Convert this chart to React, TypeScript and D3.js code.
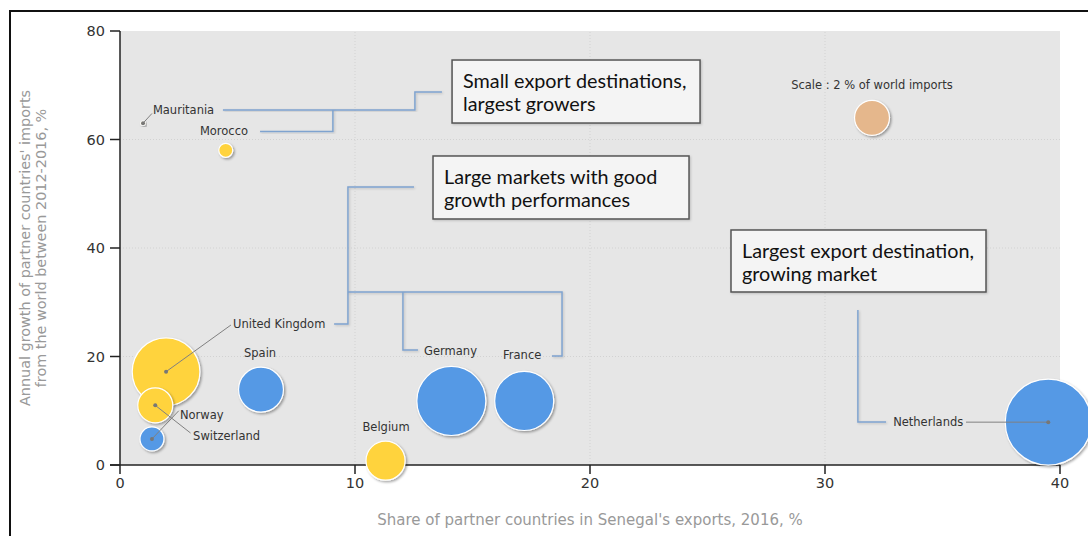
import React from 'react';
import * as d3 from 'd3';

// country bubbles
const countries = ['Mauritania', 'Morocco', 'United Kingdom', 'Norway', 'Switzerland', 'Spain', 'Belgium', 'Germany', 'France', 'Netherlands'];
const exportShare = [0.98, 4.5, 1.96, 1.5, 1.36, 6.0, 11.3, 14.1, 17.2, 39.5];
const importGrowth = [63, 58, 17.2, 11, 4.8, 13.9, 0.8, 11.8, 11.8, 7.9];
const worldImportShare = [0.03, 0.32, 7.5, 2.0, 0.94, 3.3, 2.5, 7.8, 5.7, 12.1];
const groups = ['small', 'small', 'small', 'small', 'large', 'large', 'small', 'large', 'large', 'large'];

const xTicks = [0, 10, 20, 30, 40];
const yTicks = [0, 20, 40, 60, 80];

const xTitle = "Share of partner countries in Senegal's exports, 2016, %";
const yTitle = ["Annual growth of partner countries' imports", 'from the world between 2012-2016, %'];

// size legend
const scaleLabel = 'Scale : 2 % of world imports';
const scaleValue = 2;
const scalePos = [32, 64];

// label anchors (data units)
const labelAt: Record<string, [number, number, string]> = {
  Mauritania: [1.4, 65.4, 'start'],
  Morocco: [3.4, 61.6, 'start'],
  'United Kingdom': [4.81, 26.0, 'start'],
  Norway: [2.55, 9.2, 'start'],
  Switzerland: [3.11, 5.35, 'start'],
  Spain: [5.96, 20.6, 'middle'],
  Belgium: [11.32, 7.0, 'middle'],
  Germany: [12.94, 21.0, 'start'],
  France: [16.3, 20.3, 'start'],
  Netherlands: [32.9, 7.9, 'start'],
};

// leader lines from bubble centre to a point (data units)
const leaderTo: Record<string, [number, number]> = {
  Mauritania: [1.36, 64.8],
  'United Kingdom': [4.72, 25.8],
  Norway: [3.0, 5.9],
  Switzerland: [2.5, 10.0],
  Netherlands: [36.0, 7.9],
};

// annotation brackets (data units)
const brackets: [number, number][][] = [
  [[4.38, 65.44], [12.55, 65.44], [12.55, 68.76], [13.7, 68.76]],
  [[5.96, 61.47], [9.06, 61.47], [9.06, 65.44]],
  [[12.51, 51.24], [9.7, 51.24], [9.7, 25.99], [9.11, 25.99]],
  [[9.7, 31.89], [18.81, 31.89], [18.81, 20.09], [18.38, 20.09]],
  [[12.04, 31.89], [12.04, 21.2], [12.68, 21.2]],
  [[31.4, 28.57], [31.4, 7.93], [32.6, 7.93]],
];

const boxes = [
  { lines: ['Small export destinations,', 'largest growers'], x: 14.13, y: 74.65, w: 248, h: 63 },
  { lines: ['Large markets with good', 'growth performances'], x: 13.32, y: 56.96, w: 256, h: 63 },
  { lines: ['Largest export destination,', 'growing market'], x: 26.0, y: 43.32, w: 255, h: 62 },
];

const colors: Record<string, string> = { small: '#FFD33D', large: '#5599E5', scale: '#E5B78C' };

const W = 1088;
const H = 536;
const margin = { left: 120, top: 31, right: 28, bottom: 71 };

export default function App() {
  const x = d3.scaleLinear().domain([0, 40]).range([margin.left, W - margin.right]);
  const y = d3.scaleLinear().domain([0, 80]).range([H - margin.bottom, margin.top]);
  const r = d3.scaleSqrt().domain([0, d3.max(worldImportShare) as number]).range([0, 43]);
  const line = d3.line<[number, number]>().x((d) => x(d[0])).y((d) => y(d[1]));

  const font = 'DejaVu Sans, Verdana, sans-serif';
  const order = d3.range(countries.length).sort((a, b) => worldImportShare[b] - worldImportShare[a]);

  return (
    <svg width={W} height={H} style={{ position: 'absolute', left: 0, top: 0 }} fontFamily={font}>
      <defs>
        <filter id="shadow" x="-30%" y="-30%" width="160%" height="160%">
          <feDropShadow dx="1.5" dy="1.5" stdDeviation="1.2" floodColor="#000" floodOpacity="0.35" />
        </filter>
        <filter id="lshadow" x="-10%" y="-10%" width="120%" height="120%">
          <feDropShadow dx="1" dy="1" stdDeviation="0.8" floodColor="#000" floodOpacity="0.18" />
        </filter>
      </defs>
      <rect x={0} y={0} width={W} height={H} fill="#fff" />
      <rect x={10} y={11} width={1200} height={700} fill="none" stroke="#111" strokeWidth={2} />

      {/* plot background */}
      <rect x={x(0)} y={y(80)} width={x(40) - x(0)} height={y(0) - y(80)} fill="#E6E6E6" />
      {xTicks.slice(1, -1).map((t) => (
        <line key={'gx' + t} x1={x(t)} x2={x(t)} y1={y(0)} y2={y(80)} stroke="#d2d2d2" strokeDasharray="1,2" />
      ))}
      {yTicks.slice(1, -1).map((t) => (
        <line key={'gy' + t} x1={x(0)} x2={x(40)} y1={y(t)} y2={y(t)} stroke="#d2d2d2" strokeDasharray="1,2" />
      ))}

      {/* axes */}
      <line x1={x(0)} x2={x(0)} y1={y(80)} y2={y(0)} stroke="#222" strokeWidth={1.5} />
      <line x1={x(0) - 10} x2={x(40)} y1={y(0)} y2={y(0)} stroke="#222" strokeWidth={1.5} />
      {yTicks.map((t) => (
        <g key={'yt' + t}>
          <line x1={x(0) - 10} x2={x(0)} y1={y(t)} y2={y(t)} stroke="#222" strokeWidth={1.5} />
          <text x={x(0) - 15} y={y(t)} dy="0.35em" textAnchor="end" fontSize={14.5} fill="#333">{t}</text>
        </g>
      ))}
      {xTicks.map((t) => (
        <g key={'xt' + t}>
          <line x1={x(t)} x2={x(t)} y1={y(0)} y2={y(0) + 9} stroke="#222" strokeWidth={1.5} />
          <text x={x(t)} y={y(0) + 18} dy="0.35em" textAnchor="middle" fontSize={14.5} fill="#333">{t}</text>
        </g>
      ))}
      <text x={(x(0) + x(40)) / 2} y={520} dy="0.35em" textAnchor="middle" fontSize={15} fill="#999">{xTitle}</text>
      <g transform={`translate(25,${(y(0) + y(80)) / 2}) rotate(-90)`}>
        {yTitle.map((s, i) => (
          <text key={s} x={0} y={i * 16} dy="0.35em" textAnchor="middle" fontSize={14.4} fill="#999">{s}</text>
        ))}
      </g>

      {/* brackets */}
      {brackets.map((b, i) => (
        <path key={'br' + i} d={line(b) as string} fill="none" stroke="#7FA3CF" strokeWidth={1.5} filter="url(#lshadow)" />
      ))}

      {/* boxes */}
      {boxes.map((b, i) => (
        <g key={'bx' + i} transform={`translate(${x(b.x)},${y(b.y)})`}>
          <rect width={b.w} height={b.h} fill="#F4F4F4" stroke="#555" strokeWidth={1.5} filter="url(#lshadow)" />
          {b.lines.map((s, j) => (
            <text key={s} x={11} y={21 + j * 23.5} dy="0.35em" fontSize={19.8} fontFamily="Lato, 'Open Sans', sans-serif" fill="#111">{s}</text>
          ))}
        </g>
      ))}

      {/* bubbles */}
      {order.map((i) => (
        <circle key={countries[i]} cx={x(exportShare[i])} cy={y(importGrowth[i])} r={Math.max(r(worldImportShare[i]), 2)}
          fill={colors[groups[i]]} stroke="#fff" strokeWidth={1.2} filter="url(#shadow)" />
      ))}
      <circle cx={x(scalePos[0])} cy={y(scalePos[1])} r={r(scaleValue)} fill={colors.scale} stroke="#fff" strokeWidth={1.2} filter="url(#shadow)" />
      <text x={x(scalePos[0])} y={y(70)} dy="0.35em" textAnchor="middle" fontSize={11.5} fill="#333">{scaleLabel}</text>

      {/* leaders */}
      {countries.map((c, i) => leaderTo[c] ? (
        <g key={'ld' + c}>
          <line x1={x(exportShare[i])} y1={y(importGrowth[i])} x2={x(leaderTo[c][0])} y2={y(leaderTo[c][1])} stroke="#808080" strokeWidth={1} />
          <circle cx={x(exportShare[i])} cy={y(importGrowth[i])} r={2} fill="#777" />
        </g>
      ) : null)}

      {/* labels */}
      {countries.map((c) => (
        <text key={'lb' + c} x={x(labelAt[c][0])} y={y(labelAt[c][1])} dy="0.35em" textAnchor={labelAt[c][2] as any}
          fontSize={11.5} fill="#333">{c}</text>
      ))}
    </svg>
  );
}
